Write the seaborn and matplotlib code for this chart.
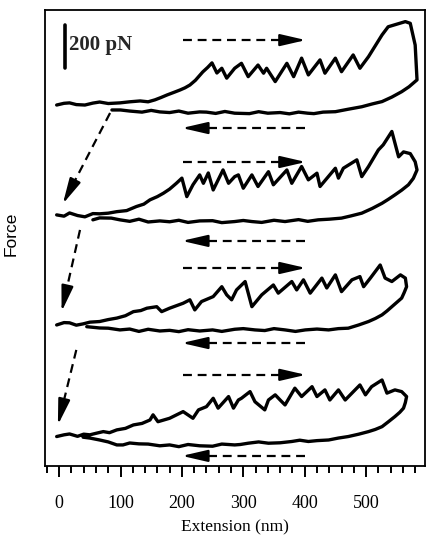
import pandas as pd
import matplotlib.pyplot as plt
import seaborn as sns
from matplotlib.ticker import MultipleLocator

# extension (nm) / force (pN, relative to each trace baseline)
ext1 = [-4, 8, 17, 28, 42, 55, 66, 80, 99, 115, 132, 145, 156, 166, 176, 188, 197, 205, 213, 222, 234,
        242, 249, 257, 265, 273, 286, 297, 308, 324, 333, 338, 352, 371, 382, 395, 406, 425, 433, 450,
        460, 479, 490, 504, 526, 536, 564, 572, 580, 583,
        570, 558, 542, 526, 510, 493, 470, 450, 430, 415, 405, 390, 375, 360, 340, 325, 310, 286, 270,
        255, 240, 229, 210, 195, 180, 164, 150, 135, 115, 100, 86]
f1 = [-5, 3, 5, -3, -5, 4, 9, 2, 5, 10, 14, 10, 19, 30, 42, 55, 65, 75, 88, 110, 149,
      170, 191, 144, 166, 120, 166, 189, 127, 181, 143, 166, 104, 189, 127, 213, 135, 205, 143, 213,
      150, 228, 166, 220, 321, 359, 383, 375, 274, 112,
      80, 57, 32, 11, 0, -13, -25, -36, -38, -45, -43, -38, -46, -40, -43, -36, -45, -43, -35,
      -44, -38, -37, -43, -33, -40, -37, -30, -38, -33, -28, -28]

ext2 = [-4, 8, 17, 30, 42, 55, 66, 80, 94, 110, 126, 138, 148, 160, 170, 180, 191, 200, 208, 218, 229,
        235, 243, 251, 267, 276, 286, 292, 300, 314, 324, 341, 349, 371, 379, 395, 406, 420, 425, 450,
        455, 463, 485, 493, 504, 520, 528, 542, 553, 561, 572, 580, 583,
        577, 569, 558, 547, 536, 526, 510, 493, 475, 460, 440, 422, 405, 390, 368, 350, 330, 314, 300,
        286, 265, 250, 229, 210, 195, 180, 164, 145, 130, 115, 99, 85, 66, 55]
f2 = [0, -6, 9, -3, -9, 6, 5, 8, 15, 20, 39, 50, 70, 85, 101, 120, 147, 171, 85, 140, 186,
      147, 195, 116, 209, 147, 178, 186, 124, 186, 132, 201, 140, 209, 147, 225, 163, 194, 132, 217,
      171, 217, 256, 178, 225, 302, 326, 388, 270, 293, 285, 247, 209,
      170, 140, 115, 93, 72, 54, 30, 8, -5, -15, -20, -23, -30, -22, -31, -25, -35, -31, -26,
      -31, -36, -27, -28, -35, -25, -32, -28, -33, -20, -30, -23, -15, -14, -23]

ext3 = [-4, 8, 17, 28, 39, 50, 66, 80, 94, 108, 121, 133, 143, 159, 167, 180, 202, 213, 221, 232, 251,
        265, 273, 281, 289, 303, 314, 330, 349, 357, 379, 387, 398, 409, 428, 436, 450, 460, 477, 490,
        496, 507, 523, 531, 542, 556, 564, 566,
        562, 558, 550, 542, 534, 526, 515, 504, 488, 471, 455, 439, 420, 401, 385, 368, 350, 335, 319,
        300, 286, 265, 250, 229, 210, 195, 180, 164, 145, 130, 115, 99, 80, 66, 45]
f3 = [-5, 6, 5, -6, 0, 8, 11, 20, 27, 38, 57, 62, 73, 80, 57, 73, 96, 112, 65, 104, 127,
      173, 135, 112, 158, 197, 80, 135, 181, 143, 197, 158, 205, 143, 213, 167, 228, 150, 205, 220,
      173, 213, 274, 213, 197, 228, 213, 173,
      145, 120, 100, 80, 60, 42, 25, 11, -5, -20, -22, -28, -24, -28, -35, -28, -22, -31, -28,
      -22, -25, -35, -28, -33, -27, -36, -30, -33, -25, -35, -24, -28, -20, -19, -13]

ext4 = [-4, 8, 17, 30, 40, 50, 60, 72, 82, 94, 108, 121, 135, 148, 153, 161, 180, 202, 218, 227, 240,
        251, 259, 276, 284, 292, 297, 311, 319, 335, 341, 352, 360, 368, 384, 395, 412, 420, 433, 441,
        455, 466, 490, 499, 509, 526, 534, 547, 558, 566,
        564, 561, 555, 547, 536, 526, 515, 504, 488, 471, 455, 439, 420, 406, 392, 379, 360, 341, 325,
        308, 295, 286, 265, 250, 229, 210, 195, 180, 164, 145, 130, 115, 104, 94, 80, 66, 50, 39]
f4 = [-3, 5, 9, -2, 8, 5, 12, 20, 15, 28, 35, 51, 58, 74, 98, 66, 82, 113, 82, 121, 136,
      175, 129, 183, 129, 167, 175, 206, 159, 121, 167, 191, 167, 144, 222, 183, 229, 183, 214, 167,
      214, 167, 237, 191, 229, 260, 199, 214, 206, 183,
      155, 129, 110, 90, 65, 43, 30, 20, 8, -3, -10, -19, -22, -26, -20, -26, -32, -34, -28,
      -34, -40, -42, -38, -48, -46, -40, -50, -42, -46, -38, -37, -33, -42, -42, -28, -19, -10, -6]

offsets = [1544, 1028, 521, 0]

frames = []
for i, (e, f) in enumerate([(ext1, f1), (ext2, f2), (ext3, f3), (ext4, f4)]):
    frames.append(pd.DataFrame({'ext': e, 'force': [v + offsets[i] for v in f], 'trace': i}))
df = pd.concat(frames, ignore_index=True)

sns.set_theme(style="ticks")
plt.rcParams['font.family'] = ['Liberation Serif', 'DejaVu Serif']

fig = plt.figure(figsize=(4.32, 5.42), dpi=100)
ax = fig.add_axes([45/432, 1 - 466/542, 380/432, 456/542])

sns.lineplot(data=df, x='ext', y='force', units='trace', estimator=None, sort=False,
             color='black', lw=2.4, ax=ax)

ax.set_xlim(-23, 596)
ax.set_ylim(-140, 1981)


def dashed_arrow(tail, head):
    # dashed shaft, solid filled head
    hx = head[0] - (head[0] - tail[0]) * 0.12
    hy = head[1] - (head[1] - tail[1]) * 0.12
    ax.plot([tail[0], hx], [tail[1], hy], color='black', lw=1.6, linestyle=(0, (4, 2.6)))
    ax.annotate('', xy=head, xytext=(hx, hy),
                arrowprops=dict(arrowstyle='-|>,head_length=1.3,head_width=0.3', color='black',
                                lw=1.6, shrinkA=0, shrinkB=0))


# pulling / relaxing arrows
right_y = [1841, 1274, 781, 284]
left_y = [1432, 907, 432, -93]
for y in right_y:
    dashed_arrow((202, y), (402, y))
for y in left_y:
    dashed_arrow((401, y), (200, y))

diag_tail = [(83, 1502), (34, 958), (28, 400)]
diag_head = [(6, 1079), (4, 578), (-2, 51)]
for t, h in zip(diag_tail, diag_head):
    dashed_arrow(t, h)

# 200 pN scale bar
ax.plot([10, 10], [1711, 1911], color='black', lw=2.6)
ax.text(16, 1816, '200 pN', fontsize=15, fontweight='bold', va='center', ha='left')

ax.xaxis.set_minor_locator(MultipleLocator(20))
ax.set_xticks([0, 100, 200, 300, 400, 500])
ax.tick_params(axis='x', which='major', direction='out', length=8, width=1.4, pad=13,
               labelsize=13, color='black', labelcolor='black')
ax.tick_params(axis='x', which='minor', direction='out', length=5, width=1.4, color='black')
ax.tick_params(axis='y', left=False, labelleft=False)
for s in ax.spines.values():
    s.set_visible(True)
    s.set_color('black')
    s.set_linewidth(1.3)

ax.set_xlabel('Extension (nm)', fontsize=12.5, labelpad=5, color='black')
ax.set_ylabel('Force', fontsize=12.5, family=['Liberation Sans', 'DejaVu Sans'], color='black')
ax.yaxis.set_label_coords(-0.07, 0.51)

plt.savefig('out.png', dpi=100)
